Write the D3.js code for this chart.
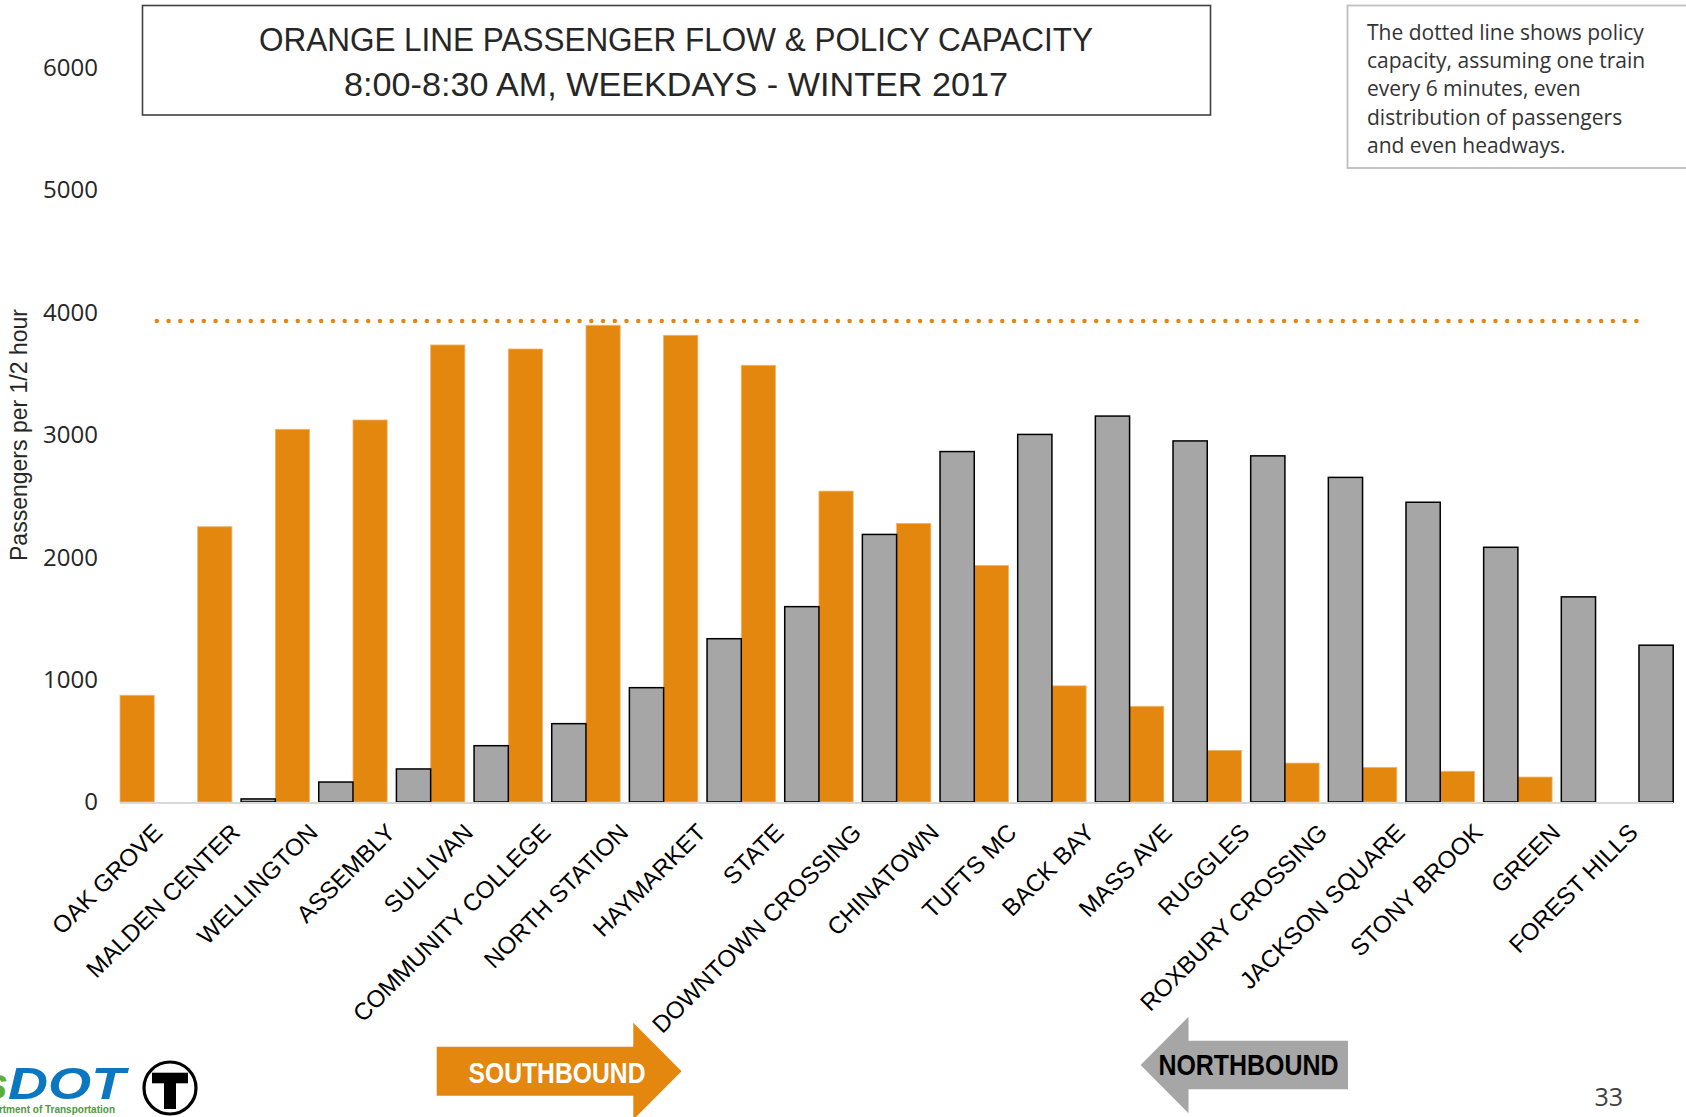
<!DOCTYPE html>
<html>
<head>
<meta charset="utf-8">
<script src="https://cdn.jsdelivr.net/npm/d3@7"></script>
<style>
  html, body { margin: 0; padding: 0; background: #fff; }
  svg { display: block; }
</style>
</head>
<body>
<svg id="chart" width="1686" height="1117"></svg>
<script>
// ---- Data ----
const categories = ["OAK GROVE", "MALDEN CENTER", "WELLINGTON", "ASSEMBLY", "SULLIVAN",
  "COMMUNITY COLLEGE", "NORTH STATION", "HAYMARKET", "STATE", "DOWNTOWN CROSSING",
  "CHINATOWN", "TUFTS MC", "BACK BAY", "MASS AVE", "RUGGLES", "ROXBURY CROSSING",
  "JACKSON SQUARE", "STONY BROOK", "GREEN", "FOREST HILLS"];
const southbound = [872, 2249, 3045, 3121, 3734, 3701, 3895, 3813, 3568, 2540,
  2276, 1933, 949, 782, 422, 318, 283, 251, 204, 0];
const northbound = [0, 25, 163, 270, 460, 640, 934, 1334, 1596, 2186,
  2863, 3003, 3153, 2950, 2828, 2652, 2449, 2081, 1676, 1281];
const policyCapacity = 3930;
const yTicks = [0, 1000, 2000, 3000, 4000, 5000, 6000];
const titleLines = ["ORANGE LINE PASSENGER FLOW & POLICY CAPACITY", "8:00-8:30 AM, WEEKDAYS - WINTER 2017"];
const noteLines = ["The dotted line shows policy", "capacity, assuming one train",
  "every 6 minutes, even", "distribution of passengers", "and even headways."];
const yAxisTitle = "Passengers per 1/2 hour";

// ---- Setup ----
const ORANGE = "#E3870F", GRAY = "#A6A6A6";
const svg = d3.select("#chart");
const x = d3.scaleBand().domain(categories).range([120, 1673.2]).paddingInner(0).paddingOuter(0);
const bw = x.bandwidth();
const xSub = d3.scaleBand().domain(["S", "N"]).range([0, bw]).paddingInner(0.212).paddingOuter(0);
const y = d3.scaleLinear().domain([0, 6000]).range([802, 67.6]);

// Y tick labels
svg.append("g").selectAll("text").data(yTicks).join("text")
  .attr("x", 98).attr("y", d => y(d)).attr("dy", "0.35em")
  .attr("text-anchor", "end")
  .style("font-family", "'Open Sans', 'Noto Sans', sans-serif").style("font-size", "24px")
  .attr("fill", "#262626").text(d => d);

// Y axis title
svg.append("text")
  .attr("transform", "translate(27,435) rotate(-90)")
  .attr("text-anchor", "middle")
  .attr("textLength", 252).attr("lengthAdjust", "spacingAndGlyphs")
  .style("font-family", "'Liberation Sans', Arial, sans-serif").style("font-size", "23px")
  .attr("fill", "#262626").text(yAxisTitle);

// Bars
const rows = categories.map((c, i) => ({ c, s: southbound[i], n: northbound[i] }));
const barG = svg.append("g");
barG.selectAll("rect.s").data(rows).join("rect").attr("class", "s")
  .attr("x", d => x(d.c) + xSub("S")).attr("width", xSub.bandwidth())
  .attr("y", d => y(d.s)).attr("height", d => y(0) - y(d.s))
  .attr("fill", ORANGE).attr("stroke", d => d.s > 0 ? "#F2B46C" : "none").attr("stroke-width", 0.8);
barG.selectAll("rect.n").data(rows.filter(d => d.n > 0)).join("rect").attr("class", "n")
  .attr("x", d => x(d.c) + xSub("N")).attr("width", xSub.bandwidth())
  .attr("y", d => y(d.n)).attr("height", d => y(0) - y(d.n))
  .attr("fill", GRAY).attr("stroke", "#000").attr("stroke-width", 1.5);

// Baseline
svg.append("line").attr("x1", x.range()[0]).attr("x2", x.range()[1])
  .attr("y1", y(0) + 1).attr("y2", y(0) + 1)
  .attr("stroke", "#D9D9D9").attr("stroke-width", 2);

// Policy capacity dotted line (spans first to last category centre)
const capX0 = x(categories[0]) + bw / 2 - 2, capX1 = x(categories[categories.length - 1]) + bw / 2 + 2;
const nDots = Math.round((capX1 - capX0) / 11.74);
const dotGap = (capX1 - capX0) / nDots;
const capLine = d3.line().x((d, i) => i === 0 ? capX0 : capX1).y(() => y(policyCapacity));
svg.append("path").datum([categories[0], categories[categories.length - 1]])
  .attr("d", capLine).attr("fill", "none").attr("stroke", ORANGE)
  .attr("stroke-width", 4.5).attr("stroke-linecap", "round").attr("stroke-dasharray", `0 ${dotGap}`);

// Category labels
svg.append("g").selectAll("text").data(categories).join("text")
  .attr("transform", d => `translate(${x(d) + bw / 2 + 5},834) rotate(-45)`)
  .attr("text-anchor", "end")
  .style("font-family", "'Liberation Sans', Arial, sans-serif").style("font-size", "24px")
  .attr("fill", "#000").text(d => d);

// Title box
svg.append("rect").attr("x", 142.5).attr("y", 5.5).attr("width", 1068).attr("height", 109.5)
  .attr("fill", "#fff").attr("stroke", "#404040").attr("stroke-width", 1.6);
const titleLens = [834, 664];
const titleY = [51, 96];
svg.append("g").selectAll("text").data(titleLines).join("text")
  .attr("x", 676).attr("y", (d, i) => titleY[i]).attr("text-anchor", "middle")
  .attr("textLength", (d, i) => titleLens[i]).attr("lengthAdjust", "spacingAndGlyphs")
  .style("font-family", "'Liberation Sans', Arial, sans-serif").style("font-size", "34px")
  .attr("fill", "#262626").text(d => d);

// Note box
svg.append("rect").attr("x", 1347.5).attr("y", 5.5).attr("width", 360).attr("height", 162.5)
  .attr("fill", "#fff").attr("stroke", "#BFBFBF").attr("stroke-width", 1.8);
svg.append("g").selectAll("text").data(noteLines).join("text")
  .attr("x", 1367).attr("y", (d, i) => 40 + i * 28.2)
  .style("font-family", "'Open Sans', 'Noto Sans', sans-serif").style("font-size", "21px")
  .attr("fill", "#333").text(d => d);

// Southbound arrow
svg.append("polygon")
  .attr("points", "436.7,1046.7 633.3,1046.7 633.3,1022.7 681.5,1071.2 633.3,1119.7 633.3,1095.7 436.7,1095.7")
  .attr("fill", ORANGE);
svg.append("text").attr("x", 468.5).attr("y", 1082.5)
  .attr("textLength", 177).attr("lengthAdjust", "spacingAndGlyphs")
  .style("font-family", "'Liberation Sans', Arial, sans-serif").style("font-size", "30px").style("font-weight", "bold")
  .attr("fill", "#fff").text("SOUTHBOUND");

// Northbound arrow
svg.append("polygon")
  .attr("points", "1140.6,1065 1188.5,1016.7 1188.5,1040.7 1348,1040.7 1348,1089.3 1188.5,1089.3 1188.5,1113.3")
  .attr("fill", GRAY);
svg.append("text").attr("x", 1158.4).attr("y", 1075)
  .attr("textLength", 180).attr("lengthAdjust", "spacingAndGlyphs")
  .style("font-family", "'Liberation Sans', Arial, sans-serif").style("font-size", "30px").style("font-weight", "bold")
  .attr("fill", "#000").text("NORTHBOUND");

// Page number
svg.append("text").attr("x", 1594.5).attr("y", 1106)
  .style("font-family", "'Open Sans', 'Noto Sans', sans-serif").style("font-size", "25px")
  .attr("fill", "#404040").text("33");

// MassDOT logo (cropped at the left edge, as in the reference)
svg.append("text").attr("x", 8).attr("y", 1099).attr("text-anchor", "end")
  .style("font-family", "'Liberation Sans', Arial, sans-serif").style("font-size", "44px")
  .style("font-weight", "bold").style("font-style", "italic")
  .attr("fill", "#5DAE3A").text("Mass");
svg.append("text").attr("x", 8).attr("y", 1099)
  .attr("textLength", 117).attr("lengthAdjust", "spacingAndGlyphs")
  .style("font-family", "'Liberation Sans', Arial, sans-serif").style("font-size", "44px")
  .style("font-weight", "bold").style("font-style", "italic")
  .attr("fill", "#0B77C1").text("DOT");
svg.append("text").attr("x", 115).attr("y", 1113).attr("text-anchor", "end")
  .style("font-family", "'Liberation Sans', Arial, sans-serif").style("font-size", "10px")
  .style("font-weight", "bold").attr("fill", "#4E9A3A").text("Massachusetts Department of Transportation");

// MBTA T logo
svg.append("circle").attr("cx", 170).attr("cy", 1088).attr("r", 26)
  .attr("fill", "#fff").attr("stroke", "#000").attr("stroke-width", 3.2);
svg.append("rect").attr("x", 152).attr("y", 1072.7).attr("width", 36).attr("height", 10.6).attr("fill", "#000");
svg.append("rect").attr("x", 164).attr("y", 1082).attr("width", 12).attr("height", 27).attr("fill", "#000");
</script>
</body>
</html>
